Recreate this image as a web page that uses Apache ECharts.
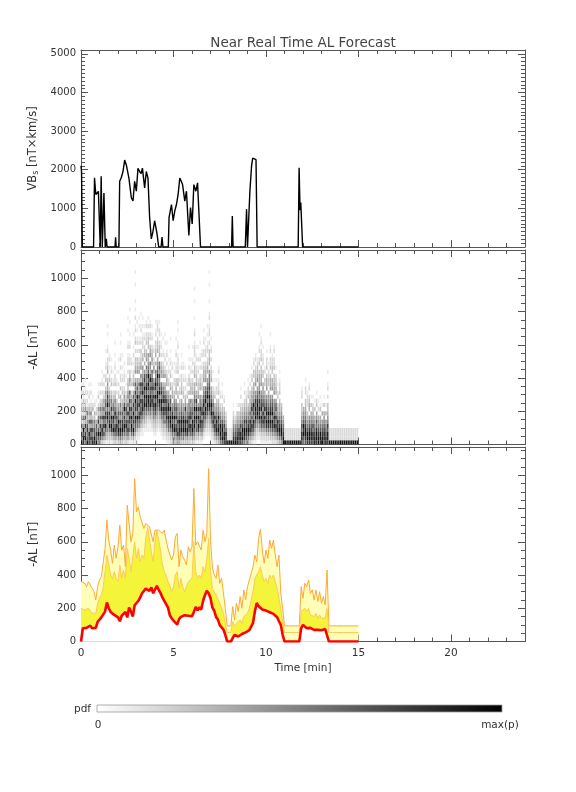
<!DOCTYPE html>
<html><head><meta charset="utf-8">
<script src="https://cdn.jsdelivr.net/npm/echarts@6/dist/echarts.min.js"></script>
<style>html,body{margin:0;padding:0;background:#fff}#c{width:576px;height:792px}</style>
</head><body><div id="c"></div>
<script>
// ---------------- data ----------------
const titleText = 'Near Real Time AL Forecast';
const xMax = 24;            // minutes shown on the time axis
const timeStep = 0.1;       // minutes per forecast column
const binSize = 25;         // nT per pdf bin

// Panel 1: VBs driver (time [min], value [nT km/s])
const vbTimes = [0, 0.03, 0.07, 0.68, 0.73, 0.8, 0.87, 0.94, 1.0, 1.04, 1.09, 1.15, 1.24, 1.31, 1.37, 1.41, 1.84, 1.87, 1.9, 2.05, 2.09, 2.18, 2.27, 2.36, 2.45, 2.59, 2.72, 2.81, 2.9, 2.99, 3.08, 3.17, 3.25, 3.32, 3.44, 3.53, 3.62, 3.71, 3.8, 3.89, 3.98, 4.11, 4.2, 4.33, 4.38, 4.43, 4.72, 4.76, 4.89, 4.98, 5.07, 5.16, 5.25, 5.34, 5.42, 5.49, 5.61, 5.7, 5.83, 5.92, 6.01, 6.1, 6.21, 6.3, 6.39, 6.46, 8.14, 8.18, 8.22, 8.88, 8.95, 9.0, 9.07, 9.13, 9.22, 9.28, 9.35, 9.46, 9.52, 11.74, 11.79, 11.84, 11.88, 11.93, 11.98, 15];
const vbValues = [2100, 1950, 0, 0, 1790, 1360, 1320, 1440, 1400, 0, 1830, 0, 1400, 0, 210, 0, 0, 250, 0, 0, 1700, 1800, 1955, 2250, 2125, 1785, 1275, 1190, 1700, 1445, 2040, 1955, 1900, 2040, 1530, 1955, 1785, 765, 210, 400, 680, 340, 0, 0, 255, 0, 0, 765, 1100, 680, 935, 1100, 1360, 1785, 1700, 1615, 1190, 1445, 300, 1020, 595, 1615, 1445, 1660, 1700, 0, 0, 800, 0, 0, 980, 0, 0, 1450, 2100, 2300, 2340, 2260, 0, 0, 2050, 950, 1150, 1100, 0, 0];

// Panel 3: -AL forecast, one value per 0.1 min from 0 to 15 min
const alMedian = [
  0, 80, 88, 82, 92, 95, 80, 68, 82, 118,
  132, 145, 155, 180, 235, 200, 178, 190, 160, 172,
  145, 122, 155, 150, 178, 145, 205, 180, 150, 218,
  225, 245, 265, 290, 298, 318, 328, 305, 325, 290,
  295, 335, 310, 292, 265, 255, 225, 205, 158, 140,
  125, 122, 102, 135, 148, 138, 158, 148, 155, 150,
  152, 178, 208, 188, 205, 192, 245, 278, 305, 290,
  262, 205, 185, 148, 132, 98, 92, 72, 40, 0,
  0, 0, 0, 40, 35, 30, 40, 45, 50, 55,
  58, 68, 78, 112, 182, 232, 212, 202, 192, 188,
  186, 178, 176, 168, 166, 158, 146, 122, 100, 40,
  0, 0, 0, 0, 0, 0, 0, 0, 0, 80,
  100, 90, 80, 75, 82, 72, 70, 76, 70, 72,
  68, 71, 75, 72, 0, 0, 0, 0, 0, 0,
  0, 0, 0, 0, 0, 0, 0, 0, 0, 0,
  0];
const alInner = [
  200, 200, 190, 180, 200, 190, 170, 160, 170, 230,
  260, 280, 330, 420, 520, 460, 400, 380, 420, 380,
  360, 460, 380, 430, 380, 560, 500, 420, 430, 600,
  500, 560, 480, 520, 500, 620, 690, 690, 540, 480,
  600, 670, 670, 550, 460, 420, 400, 360, 340, 300,
  330, 400, 420, 320, 380, 330, 300, 330, 360, 370,
  380, 600, 420, 380, 400, 380, 450, 420, 500, 620,
  420, 320, 300, 280, 290, 230, 220, 170, 110, 54,
  54, 54, 120, 90, 110, 100, 130, 110, 150, 140,
  170, 200, 250, 300, 380, 400, 420, 450, 400, 360,
  380, 350, 400, 380, 400, 360, 320, 330, 200, 120,
  54, 54, 54, 54, 54, 54, 54, 54, 54, 180,
  170, 200, 180, 200, 160, 170, 150, 170, 140, 160,
  140, 150, 140, 200, 54, 54, 54, 54, 54, 54,
  54, 54, 54, 54, 54, 54, 54, 54, 54, 54,
  54];
const alOuter = [
  360, 360, 350, 330, 360, 360, 320, 300, 250, 330,
  370, 390, 400, 560, 730, 610, 550, 470, 580, 500,
  570, 700, 550, 580, 450, 820, 830, 600, 650, 980,
  780, 810, 750, 760, 680, 710, 700, 690, 700, 600,
  670, 670, 670, 670, 650, 670, 610, 560, 570, 490,
  520, 630, 650, 450, 550, 510, 490, 460, 570, 540,
  570, 920, 580, 600, 610, 550, 670, 600, 650, 1040,
  610, 450, 400, 380, 460, 350, 380, 290, 200, 94,
  94, 94, 210, 130, 230, 180, 270, 200, 310, 250,
  330, 370, 410, 450, 520, 480, 620, 675, 550, 470,
  550, 500, 610, 560, 610, 520, 450, 520, 290, 200,
  94, 94, 94, 94, 94, 94, 94, 94, 94, 330,
  260, 350, 330, 370, 290, 310, 250, 310, 240, 300,
  230, 270, 220, 430, 94, 94, 94, 94, 94, 94,
  94, 94, 94, 94, 94, 94, 94, 94, 94, 94,
  94];

// Panel 2: pdf of -AL, one string per 0.1 min column, one char per 25 nT bin (0 = lowest); '.' empty, 1..9 = density
const alPdf = [
  "96847352431.2.1", "8979536242312.1", "69858473532.21.1", "97687546312.2", "8896473542.21.1",
  "79795846321.2.1", "9868563.42.1", "89775634.21", "978674.32.1", "5797486352.31.1",
  "47968574632.2.2", "36897585643.2.21.1", "2586979574532.2.2", "14579688576453.32.21..1", "1346579869786453.4322.21..1.1",
  "23469878576542.32.1.21", "1358979685643.32.21.1", "2469789576432.21.1", "3579868975643.322.21.1..1", "24789786543.2.21.1",
  "3589796754.32.2..1..1", "468978575634.3.22.2.21..1.1", "35798867543.32.21.1..1", "24689786974532.221.1", "3467986785432.1.1",
  "2579786957465343.2.221.21..1..1", "1347689796857.4533.221.21.1..1..1", "1368979685642.32.1.21", "2479687968574.5332.1.2.1..1", "1246789687968574.5433.2.32.21.2.1.1...1..1",
  "1124679688796754.5433.2.21.1.1", ".123679869786574.5432.2.21..1.1", "..124679879687946.54323.21.21..1", "..11346798869786545.43.2221.1.1", "...124567989796875.4.432.21.1",
  "...1234679897986746.543.322.21", "...1123578996897976545.3332.2.1", "...11246798978697456.543.22.21", "...123456898797867.45432.21.1", "..12346789796875.4532.21",
  "..1234578979689756.4.4322.21.1", "...123456789968797654.4332.221", "...12345789698768576.4332.22.1", "..1234679896876.4543.2.21.1", ".12346789698764.5432.21..1",
  ".12347689798654.532.21..1.1", "1234679897865.4432.2.21.1", "1236789798654.32.21.1", "234689979675.43.32.21.1..1", "3468979865.4432.1.21",
  "3569879676543.22.1.1", "45798697865.4433.221.21..1", "5698797665.43.43.32221.21..1.1", "46898976543.32.21.1", "35798987654.43322.21.1",
  "3679898654.332.21.21", "347989768543.2.21.1", "3589797654.32.21", "34689897665.4.332.2.1..1", "24789698756.4432.21.1",
  "35798967654.4332.2.21..1", "246798979676544.4332.2221.21..1...1..1", "1347689796854.43322.21.1", "1358979685.54332.21.2..1", "124689879665.4432.2.21..1",
  "135789698654.3322.21.21", ".1246789798765.54432.22.21.1", "..124578969876.54432.221.1", "..12345789698765.4432.221.1.1", "..1234568989787665.4433.2.221.21..1...1..1",
  ".1234679897654.4332.2.21.1", "12357989675432.1.1", "2468979654.321.1", "35798976543.22.1", "45798796543.3221.21",
  "6898976532.21", "7989875432.21.1", "899786543.21", "98975432", "9222",
  "9222", "9222", "98765432.1", "9876532", "99876543.1",
  "89986543.2", "8997865432.2.1", "7989765432", "68997865432.2.1", "5789786543321",
  "4689876543.322.1", "3579896754433.2.1", "24689786975543.32.1", "135789687965544.33.21", "1234679897865.54332.21",
  ".1235689898765.543321", ".12457989786755443.32.21..1", "1235789698765.54433.322.21..1", "123579896876554.33.221.1", "1235789697654.33.21",
  "124689798765.5443.322.1", "1246898976554.3322.1", "134689798765.5443.322.21..1", "235789698765.544.33221", "23579897665.54433.322.21",
  "24689796875.44332.1", "3579896543.32.1", "46898765443.3221.1", "5799876543", "9987654",
  "9222", "9222", "9222", "9222", "9222",
  "9222", "9222", "9222", "9222", "8997865433.221",
  "679897654", "78998765433.22.1", "89976543.2221", "8998765.4432.21", "89987654.3.1",
  "8997865432.1", "9987654.3.1", "89986754.32.1", "9987654.2.1", "8997654.31.1",
  "998765.4.1", "89987654.3.1", "998765.4.1", "8997865433.2.21..1", "9222",
  "9222", "9222", "9222", "9222", "9222",
  "9222", "9222", "9222", "9222", "9222",
  "9222", "9222", "9222", "9222", "9222"
];

// ---------------- styling ----------------
const FONT = 'DejaVu Sans';
const AX = '#555';
const TXT = '#333';
const grays = ['#ffffff', '#ebebeb', '#d9d9d9', '#c5c5c5', '#afafaf', '#979797', '#7b7b7b', '#5c5c5c', '#3a3a3a', '#141414'];

const grids = [
  { left: 81, top: 50, width: 444, height: 197 },
  { left: 81, top: 250, width: 444, height: 194.5 },
  { left: 81, top: 447, width: 444, height: 194.5 }
];

const lbl = { color: TXT, fontFamily: FONT, fontSize: 10 };

function xAxesFor(g, withLabels) {
  const base = { type: 'value', gridIndex: g, min: 0, max: xMax, splitLine: { show: false } };
  const major = { inside: true, length: 7, lineStyle: { color: AX, width: 1 } };
  const minor = { inside: true, length: 4, lineStyle: { color: AX, width: 1 } };
  const line = { show: true, onZero: false, lineStyle: { color: AX, width: 1 } };
  const noLine = { show: false, onZero: false };
  const arr = [
    Object.assign({}, base, { position: 'bottom', interval: 5, axisLine: line, axisTick: major,
      axisLabel: Object.assign({ show: withLabels, showMaxLabel: false, margin: 6, formatter: v => String(v) }, lbl, { fontSize: 10.5 }) }),
    Object.assign({}, base, { position: 'bottom', interval: 1, axisLine: noLine, axisTick: minor, axisLabel: { show: false } }),
    Object.assign({}, base, { position: 'top', interval: 5, axisLine: line, axisTick: major, axisLabel: { show: false } }),
    Object.assign({}, base, { position: 'top', interval: 1, axisLine: noLine, axisTick: minor, axisLabel: { show: false } })
  ];
  if (withLabels) {
    arr[0].name = 'Time [min]';
    arr[0].nameLocation = 'middle';
    arr[0].nameGap = 21;
    arr[0].nameTextStyle = { color: TXT, fontFamily: FONT, fontSize: 10.5 };
  }
  return arr;
}

function yAxesFor(g, yMax, majorInt, minorInt, name, rich) {
  const base = { type: 'value', gridIndex: g, min: 0, max: yMax, splitLine: { show: false } };
  const major = { inside: true, length: 7, lineStyle: { color: AX, width: 1 } };
  const minor = { inside: true, length: 4, lineStyle: { color: AX, width: 1 } };
  const line = { show: true, onZero: false, lineStyle: { color: AX, width: 1 } };
  const noLine = { show: false, onZero: false };
  return [
    Object.assign({}, base, { position: 'left', interval: majorInt, axisLine: line, axisTick: major,
      axisLabel: Object.assign({ show: true, showMaxLabel: false, margin: 5, formatter: v => String(v) }, lbl),
      name: name, nameLocation: 'middle', nameRotate: 90, nameGap: 31,
      nameTextStyle: Object.assign({ color: TXT, fontFamily: FONT, fontSize: 11.5 }, rich ? { rich: rich } : {}) }),
    Object.assign({}, base, { position: 'left', interval: minorInt, axisLine: noLine, axisTick: minor, axisLabel: { show: false } }),
    Object.assign({}, base, { position: 'right', interval: majorInt, axisLine: line, axisTick: major, axisLabel: { show: false } }),
    Object.assign({}, base, { position: 'right', interval: minorInt, axisLine: noLine, axisTick: minor, axisLabel: { show: false } })
  ];
}

const vbRich = {
  n: { fontFamily: FONT, fontSize: 11.5, color: TXT },
  s: { fontFamily: FONT, fontSize: 8, color: TXT, padding: [6, 0, 0, 0] }
};

const xAxis = [].concat(xAxesFor(0, false), xAxesFor(1, false), xAxesFor(2, true));
const yAxis = [].concat(
  yAxesFor(0, 5100, 1000, 100, '{n|VB}{s|s}{n| [nT×km/s]}', vbRich),
  yAxesFor(1, 1170, 200, 50, '-AL [nT]'),
  yAxesFor(2, 1170, 200, 50, '-AL [nT]')
);

// build series data from the arrays
const vbData = vbTimes.map((t, i) => [t, vbValues[i]]);
const heatCells = [];
alPdf.forEach((col, c) => {
  for (let b = 0; b < col.length; b++) {
    const ch = col[b];
    if (ch !== '.') heatCells.push([c * timeStep, b * binSize, +ch]);
  }
});
const tAt = i => +(i * timeStep).toFixed(2);
const outerData = alOuter.map((v, i) => [tAt(i), v]);
const innerData = alInner.map((v, i) => [tAt(i), v]);
const innerFillData = alInner.map((v, i) => [tAt(i), (alMedian[i] === 0 && v <= 54) ? 0 : v]);
const medianData = alMedian.map((v, i) => [tAt(i), v]);

const chart = echarts.init(document.getElementById('c'), null, { renderer: 'canvas' });
chart.setOption({
  animation: false,
  backgroundColor: '#fff',
  title: {
    text: titleText, left: 298, top: 31, textAlign: 'center',
    textStyle: { fontFamily: FONT, fontSize: 13.5, fontWeight: 'normal', color: '#444' }
  },
  grid: grids,
  xAxis: xAxis,
  yAxis: yAxis,
  series: [
    { type: 'line', xAxisIndex: 0, yAxisIndex: 0, data: vbData, showSymbol: false,
      lineStyle: { color: '#000', width: 1.4 }, z: 3 },
    { type: 'custom', xAxisIndex: 4, yAxisIndex: 4, data: heatCells, clip: true,
      encode: { x: 0, y: 1 },
      renderItem: function (params, api) {
        const t = api.value(0), a = api.value(1), lev = api.value(2);
        const p0 = api.coord([t, a + binSize]);
        const p1 = api.coord([t + timeStep, a]);
        return { type: 'rect',
          shape: { x: p0[0], y: p0[1], width: Math.max(0.5, p1[0] - p0[0] - 0.35), height: p1[1] - p0[1] },
          style: { fill: grays[lev] } };
      }, z: 2 },
    { type: 'line', xAxisIndex: 8, yAxisIndex: 8, data: outerData, showSymbol: false,
      lineStyle: { color: '#ffa838', width: 1 }, areaStyle: { color: '#ffffb8', opacity: 1 }, z: 2 },
    { type: 'line', xAxisIndex: 8, yAxisIndex: 8, data: innerFillData, showSymbol: false,
      lineStyle: { width: 0, opacity: 0 }, areaStyle: { color: '#f4f43a', opacity: 1 }, z: 3 },
    { type: 'line', xAxisIndex: 8, yAxisIndex: 8, data: innerData, showSymbol: false,
      lineStyle: { color: '#ffc860', width: 1 }, z: 4 },
    { type: 'line', xAxisIndex: 8, yAxisIndex: 8, data: medianData, showSymbol: false,
      lineStyle: { color: '#ff0000', width: 2.6 }, areaStyle: { color: '#ffffff', opacity: 1 }, z: 5 }
  ],
  graphic: [
    { type: 'text', x: 74, y: 709, style: { text: 'pdf', font: '10.5px "DejaVu Sans"', fill: TXT, align: 'left', verticalAlign: 'middle' } },
    { type: 'rect', shape: { x: 97, y: 705, width: 405, height: 7 },
      style: { fill: { type: 'linear', x: 0, y: 0, x2: 1, y2: 0, colorStops: [{ offset: 0, color: '#ffffff' }, { offset: 1, color: '#000000' }] },
               stroke: '#999', lineWidth: 0.8 } },
    { type: 'text', x: 98, y: 725, style: { text: '0', font: '10.5px "DejaVu Sans"', fill: TXT, align: 'center', verticalAlign: 'middle' } },
    { type: 'text', x: 500, y: 725, style: { text: 'max(p)', font: '10.5px "DejaVu Sans"', fill: TXT, align: 'center', verticalAlign: 'middle' } }
  ]
});
</script>
</body></html>
